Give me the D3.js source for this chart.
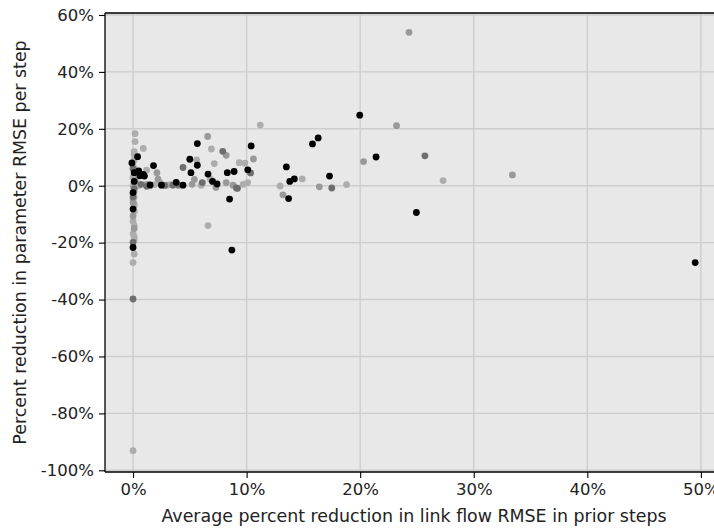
<!DOCTYPE html>
<html>
<head>
<meta charset="utf-8">
<script src="https://cdn.jsdelivr.net/npm/d3@7"></script>
<style>
  body { margin: 0; background: #fff; }
  svg { display: block; font-family: "DejaVu Sans", sans-serif; }
</style>
</head>
<body>
<svg id="chart" width="714" height="529"></svg>
<script>
// x = avg % reduction in link flow RMSE, y = % reduction in parameter RMSE
var blackPts = [
  [0.4, 10.2], [-0.1, 8], [0.1, 4.6], [0.5, 5.2], [0.6, 3.5], [1.0, 3.4], [1.8, 7.1],
  [0, -2.4], [0, -8.2], [0, -21.7], [0.1, 1.5], [0.9, 4.0], [1.5, 0.3], [2.5, 0.2],
  [3.8, 1.2], [4.4, 0.2], [5.0, 9.3], [5.1, 4.6], [5.66, 14.8], [5.66, 7.2], [6.6, 4.1],
  [7.0, 1.5], [7.4, 0.6], [8.3, 4.6], [8.9, 5.0], [10.1, 5.6], [10.4, 14.0], [8.5, -4.7],
  [8.7, -22.6], [13.5, 6.6], [13.8, 1.5], [14.2, 2.4], [13.7, -4.5], [15.8, 14.7],
  [16.3, 16.8], [17.3, 3.4], [19.96, 24.8], [21.4, 10.1], [24.95, -9.4], [49.5, -27.0]
];
var darkPts = [
  [0, 6], [0.1, -1], [0, -19.9], [0, -39.8], [0, -4], [0.7, 0.5], [2.8, 0.1], [3.5, 0.2],
  [4.4, 6.4], [6.1, 1.1], [7.9, 12.1], [9.1, -0.8], [10.35, 4.5], [9.2, -0.9],
  [17.5, -0.8], [25.7, 10.5], [1.2, -0.2], [3.9, 0.5]
];
var midPts = [
  [24.3, 53.9], [33.4, 3.8], [23.2, 21.1], [20.3, 8.5], [16.4, -0.4], [13.2, -3.2],
  [6.57, 17.3], [8.2, 10.7], [10.6, 9.4], [2.2, 2.3], [2.1, 4.6], [5.4, 2.2], [0, -10.6],
  [8.2, 1.1], [7.3, -0.6], [0.2, 2], [0, -6], [1.2, 0.5], [0.1, -15],
  [1.5, 0], [2.6, 0.3], [4.0, 0.1], [5.2, 0.5], [8.8, 0.2]
];
var lightPts = [
  [0.18, 18.3], [0.18, 15.5], [0.9, 13.1], [1.2, 5.5], [6.9, 12.9], [7.15, 7.8],
  [9.35, 8.1], [9.85, 7.9], [11.2, 21.3], [6.6, -14.0], [6.8, 2.3], [9.7, 0.5],
  [10.1, 1.1], [12.95, -0.1], [14.9, 2.4], [18.8, 0.4], [27.3, 1.8], [0, -16.8],
  [0, -27], [0, -93.1], [0, 0], [0, 3], [0, -3], [0, -5], [0, 7], [0.1, 9], [0, -12.5],
  [1.9, 0.4], [2.4, 0.9], [3.0, 0.2], [5.6, 9.1], [0.5, 0.1], [3.3, 0.4], [6.0, 0.2],
  [0.1, 12], [0.1, 11], [0.1, 6], [0.1, 4.5], [0.1, 2], [0.1, 1], [0.1, -1], [0.1, -2],
  [0.1, -4], [0.1, -6.5], [0.1, -7], [0.1, -9], [0.1, -14], [0.1, -18], [0.1, -19], [0.1, -24]
];
var seriesColors = ["#000000", "#6e6e6e", "#999999", "#adadad"];
var xTicks = [0, 10, 20, 30, 40, 50];
var yTicks = [-100, -80, -60, -40, -20, 0, 20, 40, 60];

var svg = d3.select("#chart"),
  pLeft = 105, pRight = 727, pTop = 13, pBottom = 472;

var x = d3.scaleLinear().domain([-2.47, 52.3]).range([pLeft, pRight]),
  y = d3.scaleLinear().domain([-100.6, 60.7]).range([pBottom, pTop]);

svg.append("rect")
  .attr("x", pLeft).attr("y", pTop)
  .attr("width", pRight - pLeft).attr("height", pBottom - pTop)
  .attr("fill", "#e8e8e8");

var grid = svg.append("g").attr("stroke", "#cdcdcd").attr("stroke-width", 1.4);
grid.selectAll(".gx").data(xTicks).enter().append("line")
  .attr("x1", d => x(d)).attr("x2", d => x(d))
  .attr("y1", pTop).attr("y2", pBottom);
grid.selectAll(".gy").data(yTicks).enter().append("line")
  .attr("x1", pLeft).attr("x2", pRight)
  .attr("y1", d => y(d)).attr("y2", d => y(d));

var groups = [blackPts, darkPts, midPts, lightPts];
// draw light first so black sits on top
[3, 2, 1, 0].forEach(function(k){
  svg.append("g").selectAll("circle")
    .data(groups[k]).enter().append("circle")
    .attr("cx", d => x(d[0])).attr("cy", d => y(d[1]))
    .attr("r", 3.4)
    .attr("fill", seriesColors[k]);
});

var fmt = d => d + "%";
var xAxis = svg.append("g").attr("transform", "translate(0," + pBottom + ")")
  .call(d3.axisBottom(x).tickValues(xTicks).tickFormat(fmt).tickSize(6).tickPadding(5));
var yAxis = svg.append("g").attr("transform", "translate(" + pLeft + ",0)")
  .call(d3.axisLeft(y).tickValues(yTicks).tickFormat(fmt).tickSize(6).tickPadding(5));
[xAxis, yAxis].forEach(function(a){
  a.attr("font-size", null).attr("font-family", null);
  a.selectAll("text").attr("font-size", 16.5).attr("fill", "#222");
  a.selectAll("line").attr("stroke", "#000").attr("stroke-width", 1.1);
  a.select(".domain").remove();
});

// spines (right one falls outside the crop)
svg.append("line").attr("x1", pLeft).attr("x2", pRight).attr("y1", pTop).attr("y2", pTop)
  .attr("stroke", "#000").attr("stroke-width", 1.3);
svg.append("line").attr("x1", pLeft).attr("x2", pRight).attr("y1", pBottom).attr("y2", pBottom)
  .attr("stroke", "#000").attr("stroke-width", 1.3);
svg.append("line").attr("x1", pLeft).attr("x2", pLeft).attr("y1", pTop).attr("y2", pBottom)
  .attr("stroke", "#000").attr("stroke-width", 1.3);

svg.append("text")
  .attr("x", 414).attr("y", 522)
  .attr("text-anchor", "middle").attr("font-size", 17.4).attr("fill", "#222")
  .text("Average percent reduction in link flow RMSE in prior steps");
svg.append("text")
  .attr("transform", "translate(26," + ((pTop + pBottom) / 2) + ") rotate(-90)")
  .attr("text-anchor", "middle").attr("font-size", 17.4).attr("fill", "#222")
  .text("Percent reduction in parameter RMSE per step");
</script>
</body>
</html>
